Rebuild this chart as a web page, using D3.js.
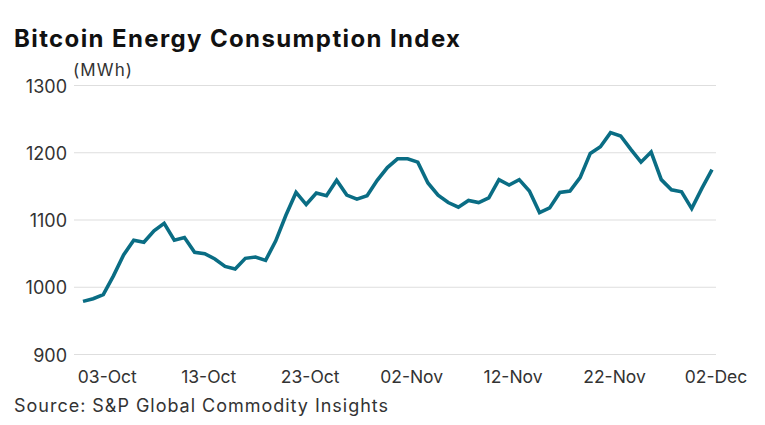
<!DOCTYPE html>
<html><head><meta charset="utf-8">
<script src="https://cdn.jsdelivr.net/npm/d3@7"></script>
<style>
body{margin:0;background:#fff;}
svg text{font-family:Inter,Roboto,"Noto Sans",sans-serif;}
</style></head>
<body><svg id="c" width="765" height="425"></svg>
<script>
const startDate = "2022-10-01";
const values = [979,983,989,1017,1048,1070,1067,1084,1095,1070,1074,1052,1050,
1042,1031,1027,1043,1045,1040,1069,1107,1141,1123,1140,1136,
1159,1137,1131,1136,1159,1178,1191,1191,1186,1155,1137,1126,1119,1129,1126,1133,
1160,1152,1160,1143,1111,1118,1141,1143,1163,1199,1209,1230,1225,1205,1186,1201,
1160,1145,1142,1117,1147,1175];
const yTicks = [900,1000,1100,1200,1300];
const xTickLabels = ["03-Oct","13-Oct","23-Oct","02-Nov","12-Nov","22-Nov","02-Dec"];
const title = "Bitcoin Energy Consumption Index";
const unit = "(MWh)";
const source = "Source: S&P Global Commodity Insights";

const parse = d3.timeParse("%Y-%m-%d");
const fmt = d3.timeFormat("%d-%b");
const t0 = parse(startDate);
const data = values.map((v,i)=>({date:d3.timeDay.offset(t0,i), value:v}));

const svg = d3.select("#c");
const x = d3.scaleTime().domain(d3.extent(data,d=>d.date)).range([83,712]);
const y = d3.scaleLinear().domain([900,1300]).range([354.5,85.5]);

svg.append("text").attr("x",14).attr("y",47).attr("font-size",24).attr("font-weight",700)
  .attr("fill","#111").attr("textLength",446).attr("lengthAdjust","spacing").text(title);
svg.append("text").attr("x",73).attr("y",76).attr("font-size",17).attr("fill","#333")
  .attr("textLength",59).attr("lengthAdjust","spacing").text(unit);

// grid
svg.append("g").selectAll("line").data(yTicks).join("line")
  .attr("x1",74).attr("x2",716).attr("y1",d=>y(d)).attr("y2",d=>y(d))
  .attr("stroke","#dedede").attr("stroke-width",1.2);
svg.append("g").selectAll("text").data(yTicks).join("text")
  .attr("x",67).attr("y",d=>y(d)+7).attr("text-anchor","end").attr("font-size",18)
  .attr("fill","#333").text(d=>d);

const xTicks = xTickLabels.map(s=>data.find(d=>fmt(d.date)===s).date);
svg.append("g").selectAll("text").data(xTicks).join("text")
  .attr("x",d=>x(d)+4).attr("y",383).attr("text-anchor","middle").attr("font-size",17.5)
  .attr("fill","#333").text(d=>fmt(d));

svg.append("path").datum(data)
  .attr("d",d3.line().x(d=>x(d.date)).y(d=>y(d.value)))
  .attr("fill","none").attr("stroke","#0a6d84").attr("stroke-width",3.6)
  .attr("stroke-linejoin","miter");

svg.append("text").attr("x",14).attr("y",412).attr("font-size",18).attr("fill","#333")
  .attr("textLength",374).attr("lengthAdjust","spacing").text(source);
</script></body></html>
